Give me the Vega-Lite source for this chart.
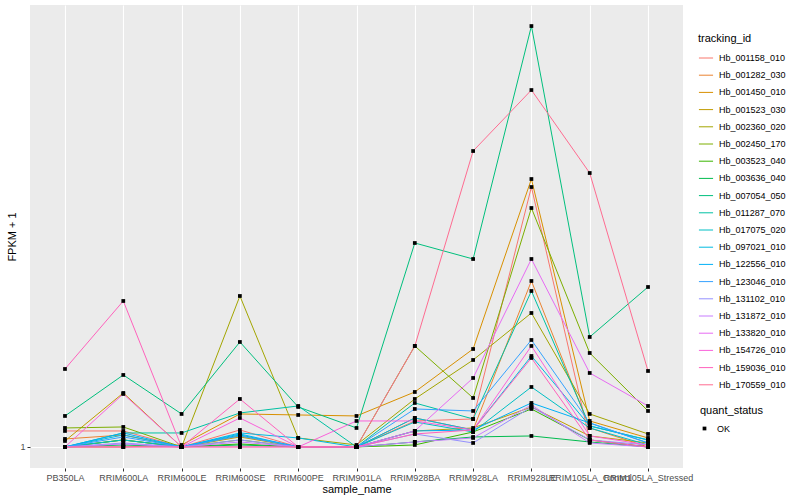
{
"$schema": "https://vega.github.io/schema/vega-lite/v6.json",
"width": 653, "height": 463,
"autosize": {"type": "none"},
"padding": {"left": 30, "top": 5, "right": 117, "bottom": 32},
"background": "white",
"datasets": {"expr": [
{"tracking_id":"Hb_001158_010","sample_name":"PB350LA","fpkm":2.6,"quant_status":"OK"},
{"tracking_id":"Hb_001158_010","sample_name":"RRIM600LA","fpkm":2.6,"quant_status":"OK"},
{"tracking_id":"Hb_001158_010","sample_name":"RRIM600LE","fpkm":1,"quant_status":"OK"},
{"tracking_id":"Hb_001158_010","sample_name":"RRIM600SE","fpkm":2.7,"quant_status":"OK"},
{"tracking_id":"Hb_001158_010","sample_name":"RRIM600PE","fpkm":1,"quant_status":"OK"},
{"tracking_id":"Hb_001158_010","sample_name":"RRIM901LA","fpkm":1,"quant_status":"OK"},
{"tracking_id":"Hb_001158_010","sample_name":"RRIM928BA","fpkm":3.6,"quant_status":"OK"},
{"tracking_id":"Hb_001158_010","sample_name":"RRIM928LA","fpkm":3.8,"quant_status":"OK"},
{"tracking_id":"Hb_001158_010","sample_name":"RRIM928LE","fpkm":27.0,"quant_status":"OK"},
{"tracking_id":"Hb_001158_010","sample_name":"RRIM105LA_Control","fpkm":1.7,"quant_status":"OK"},
{"tracking_id":"Hb_001158_010","sample_name":"RRIM105LA_Stressed","fpkm":1,"quant_status":"OK"},
{"tracking_id":"Hb_001282_030","sample_name":"PB350LA","fpkm":1.8,"quant_status":"OK"},
{"tracking_id":"Hb_001282_030","sample_name":"RRIM600LA","fpkm":2.2,"quant_status":"OK"},
{"tracking_id":"Hb_001282_030","sample_name":"RRIM600LE","fpkm":1,"quant_status":"OK"},
{"tracking_id":"Hb_001282_030","sample_name":"RRIM600SE","fpkm":2.1,"quant_status":"OK"},
{"tracking_id":"Hb_001282_030","sample_name":"RRIM600PE","fpkm":1,"quant_status":"OK"},
{"tracking_id":"Hb_001282_030","sample_name":"RRIM901LA","fpkm":1,"quant_status":"OK"},
{"tracking_id":"Hb_001282_030","sample_name":"RRIM928BA","fpkm":3.9,"quant_status":"OK"},
{"tracking_id":"Hb_001282_030","sample_name":"RRIM928LA","fpkm":2.7,"quant_status":"OK"},
{"tracking_id":"Hb_001282_030","sample_name":"RRIM928LE","fpkm":17.6,"quant_status":"OK"},
{"tracking_id":"Hb_001282_030","sample_name":"RRIM105LA_Control","fpkm":2.9,"quant_status":"OK"},
{"tracking_id":"Hb_001282_030","sample_name":"RRIM105LA_Stressed","fpkm":1,"quant_status":"OK"},
{"tracking_id":"Hb_001450_010","sample_name":"PB350LA","fpkm":1,"quant_status":"OK"},
{"tracking_id":"Hb_001450_010","sample_name":"RRIM600LA","fpkm":1,"quant_status":"OK"},
{"tracking_id":"Hb_001450_010","sample_name":"RRIM600LE","fpkm":1.2,"quant_status":"OK"},
{"tracking_id":"Hb_001450_010","sample_name":"RRIM600SE","fpkm":4.3,"quant_status":"OK"},
{"tracking_id":"Hb_001450_010","sample_name":"RRIM600PE","fpkm":4.2,"quant_status":"OK"},
{"tracking_id":"Hb_001450_010","sample_name":"RRIM901LA","fpkm":4.1,"quant_status":"OK"},
{"tracking_id":"Hb_001450_010","sample_name":"RRIM928BA","fpkm":6.5,"quant_status":"OK"},
{"tracking_id":"Hb_001450_010","sample_name":"RRIM928LA","fpkm":10.8,"quant_status":"OK"},
{"tracking_id":"Hb_001450_010","sample_name":"RRIM928LE","fpkm":27.8,"quant_status":"OK"},
{"tracking_id":"Hb_001450_010","sample_name":"RRIM105LA_Control","fpkm":3.6,"quant_status":"OK"},
{"tracking_id":"Hb_001450_010","sample_name":"RRIM105LA_Stressed","fpkm":1.9,"quant_status":"OK"},
{"tracking_id":"Hb_001523_030","sample_name":"PB350LA","fpkm":1.6,"quant_status":"OK"},
{"tracking_id":"Hb_001523_030","sample_name":"RRIM600LA","fpkm":6.4,"quant_status":"OK"},
{"tracking_id":"Hb_001523_030","sample_name":"RRIM600LE","fpkm":1,"quant_status":"OK"},
{"tracking_id":"Hb_001523_030","sample_name":"RRIM600SE","fpkm":2.0,"quant_status":"OK"},
{"tracking_id":"Hb_001523_030","sample_name":"RRIM600PE","fpkm":1,"quant_status":"OK"},
{"tracking_id":"Hb_001523_030","sample_name":"RRIM901LA","fpkm":1,"quant_status":"OK"},
{"tracking_id":"Hb_001523_030","sample_name":"RRIM928BA","fpkm":2.6,"quant_status":"OK"},
{"tracking_id":"Hb_001523_030","sample_name":"RRIM928LA","fpkm":2.9,"quant_status":"OK"},
{"tracking_id":"Hb_001523_030","sample_name":"RRIM928LE","fpkm":5.0,"quant_status":"OK"},
{"tracking_id":"Hb_001523_030","sample_name":"RRIM105LA_Control","fpkm":2.1,"quant_status":"OK"},
{"tracking_id":"Hb_001523_030","sample_name":"RRIM105LA_Stressed","fpkm":1.4,"quant_status":"OK"},
{"tracking_id":"Hb_002360_020","sample_name":"PB350LA","fpkm":1,"quant_status":"OK"},
{"tracking_id":"Hb_002360_020","sample_name":"RRIM600LA","fpkm":1.7,"quant_status":"OK"},
{"tracking_id":"Hb_002360_020","sample_name":"RRIM600LE","fpkm":1,"quant_status":"OK"},
{"tracking_id":"Hb_002360_020","sample_name":"RRIM600SE","fpkm":16.1,"quant_status":"OK"},
{"tracking_id":"Hb_002360_020","sample_name":"RRIM600PE","fpkm":1.9,"quant_status":"OK"},
{"tracking_id":"Hb_002360_020","sample_name":"RRIM901LA","fpkm":1.2,"quant_status":"OK"},
{"tracking_id":"Hb_002360_020","sample_name":"RRIM928BA","fpkm":5.8,"quant_status":"OK"},
{"tracking_id":"Hb_002360_020","sample_name":"RRIM928LA","fpkm":9.7,"quant_status":"OK"},
{"tracking_id":"Hb_002360_020","sample_name":"RRIM928LE","fpkm":14.4,"quant_status":"OK"},
{"tracking_id":"Hb_002360_020","sample_name":"RRIM105LA_Control","fpkm":4.3,"quant_status":"OK"},
{"tracking_id":"Hb_002360_020","sample_name":"RRIM105LA_Stressed","fpkm":2.3,"quant_status":"OK"},
{"tracking_id":"Hb_002450_170","sample_name":"PB350LA","fpkm":2.9,"quant_status":"OK"},
{"tracking_id":"Hb_002450_170","sample_name":"RRIM600LA","fpkm":3.0,"quant_status":"OK"},
{"tracking_id":"Hb_002450_170","sample_name":"RRIM600LE","fpkm":1,"quant_status":"OK"},
{"tracking_id":"Hb_002450_170","sample_name":"RRIM600SE","fpkm":1.7,"quant_status":"OK"},
{"tracking_id":"Hb_002450_170","sample_name":"RRIM600PE","fpkm":1,"quant_status":"OK"},
{"tracking_id":"Hb_002450_170","sample_name":"RRIM901LA","fpkm":1,"quant_status":"OK"},
{"tracking_id":"Hb_002450_170","sample_name":"RRIM928BA","fpkm":11.1,"quant_status":"OK"},
{"tracking_id":"Hb_002450_170","sample_name":"RRIM928LA","fpkm":5.9,"quant_status":"OK"},
{"tracking_id":"Hb_002450_170","sample_name":"RRIM928LE","fpkm":24.9,"quant_status":"OK"},
{"tracking_id":"Hb_002450_170","sample_name":"RRIM105LA_Control","fpkm":10.4,"quant_status":"OK"},
{"tracking_id":"Hb_002450_170","sample_name":"RRIM105LA_Stressed","fpkm":4.6,"quant_status":"OK"},
{"tracking_id":"Hb_003523_040","sample_name":"PB350LA","fpkm":1,"quant_status":"OK"},
{"tracking_id":"Hb_003523_040","sample_name":"RRIM600LA","fpkm":1.7,"quant_status":"OK"},
{"tracking_id":"Hb_003523_040","sample_name":"RRIM600LE","fpkm":1,"quant_status":"OK"},
{"tracking_id":"Hb_003523_040","sample_name":"RRIM600SE","fpkm":1.3,"quant_status":"OK"},
{"tracking_id":"Hb_003523_040","sample_name":"RRIM600PE","fpkm":1,"quant_status":"OK"},
{"tracking_id":"Hb_003523_040","sample_name":"RRIM901LA","fpkm":1,"quant_status":"OK"},
{"tracking_id":"Hb_003523_040","sample_name":"RRIM928BA","fpkm":1.2,"quant_status":"OK"},
{"tracking_id":"Hb_003523_040","sample_name":"RRIM928LA","fpkm":2.5,"quant_status":"OK"},
{"tracking_id":"Hb_003523_040","sample_name":"RRIM928LE","fpkm":4.8,"quant_status":"OK"},
{"tracking_id":"Hb_003523_040","sample_name":"RRIM105LA_Control","fpkm":1.7,"quant_status":"OK"},
{"tracking_id":"Hb_003523_040","sample_name":"RRIM105LA_Stressed","fpkm":1,"quant_status":"OK"},
{"tracking_id":"Hb_003636_040","sample_name":"PB350LA","fpkm":1,"quant_status":"OK"},
{"tracking_id":"Hb_003636_040","sample_name":"RRIM600LA","fpkm":1.2,"quant_status":"OK"},
{"tracking_id":"Hb_003636_040","sample_name":"RRIM600LE","fpkm":1,"quant_status":"OK"},
{"tracking_id":"Hb_003636_040","sample_name":"RRIM600SE","fpkm":1.2,"quant_status":"OK"},
{"tracking_id":"Hb_003636_040","sample_name":"RRIM600PE","fpkm":1,"quant_status":"OK"},
{"tracking_id":"Hb_003636_040","sample_name":"RRIM901LA","fpkm":1,"quant_status":"OK"},
{"tracking_id":"Hb_003636_040","sample_name":"RRIM928BA","fpkm":1.5,"quant_status":"OK"},
{"tracking_id":"Hb_003636_040","sample_name":"RRIM928LA","fpkm":2.0,"quant_status":"OK"},
{"tracking_id":"Hb_003636_040","sample_name":"RRIM928LE","fpkm":2.1,"quant_status":"OK"},
{"tracking_id":"Hb_003636_040","sample_name":"RRIM105LA_Control","fpkm":1.5,"quant_status":"OK"},
{"tracking_id":"Hb_003636_040","sample_name":"RRIM105LA_Stressed","fpkm":1,"quant_status":"OK"},
{"tracking_id":"Hb_007054_050","sample_name":"PB350LA","fpkm":4.1,"quant_status":"OK"},
{"tracking_id":"Hb_007054_050","sample_name":"RRIM600LA","fpkm":8.2,"quant_status":"OK"},
{"tracking_id":"Hb_007054_050","sample_name":"RRIM600LE","fpkm":4.3,"quant_status":"OK"},
{"tracking_id":"Hb_007054_050","sample_name":"RRIM600SE","fpkm":11.5,"quant_status":"OK"},
{"tracking_id":"Hb_007054_050","sample_name":"RRIM600PE","fpkm":5.0,"quant_status":"OK"},
{"tracking_id":"Hb_007054_050","sample_name":"RRIM901LA","fpkm":2.9,"quant_status":"OK"},
{"tracking_id":"Hb_007054_050","sample_name":"RRIM928BA","fpkm":21.4,"quant_status":"OK"},
{"tracking_id":"Hb_007054_050","sample_name":"RRIM928LA","fpkm":19.8,"quant_status":"OK"},
{"tracking_id":"Hb_007054_050","sample_name":"RRIM928LE","fpkm":43.1,"quant_status":"OK"},
{"tracking_id":"Hb_007054_050","sample_name":"RRIM105LA_Control","fpkm":12.0,"quant_status":"OK"},
{"tracking_id":"Hb_007054_050","sample_name":"RRIM105LA_Stressed","fpkm":17.0,"quant_status":"OK"},
{"tracking_id":"Hb_011287_070","sample_name":"PB350LA","fpkm":1,"quant_status":"OK"},
{"tracking_id":"Hb_011287_070","sample_name":"RRIM600LA","fpkm":2.4,"quant_status":"OK"},
{"tracking_id":"Hb_011287_070","sample_name":"RRIM600LE","fpkm":2.4,"quant_status":"OK"},
{"tracking_id":"Hb_011287_070","sample_name":"RRIM600SE","fpkm":4.4,"quant_status":"OK"},
{"tracking_id":"Hb_011287_070","sample_name":"RRIM600PE","fpkm":5.1,"quant_status":"OK"},
{"tracking_id":"Hb_011287_070","sample_name":"RRIM901LA","fpkm":1,"quant_status":"OK"},
{"tracking_id":"Hb_011287_070","sample_name":"RRIM928BA","fpkm":5.4,"quant_status":"OK"},
{"tracking_id":"Hb_011287_070","sample_name":"RRIM928LA","fpkm":3.8,"quant_status":"OK"},
{"tracking_id":"Hb_011287_070","sample_name":"RRIM928LE","fpkm":16.6,"quant_status":"OK"},
{"tracking_id":"Hb_011287_070","sample_name":"RRIM105LA_Control","fpkm":3.1,"quant_status":"OK"},
{"tracking_id":"Hb_011287_070","sample_name":"RRIM105LA_Stressed","fpkm":1.7,"quant_status":"OK"},
{"tracking_id":"Hb_017075_020","sample_name":"PB350LA","fpkm":1,"quant_status":"OK"},
{"tracking_id":"Hb_017075_020","sample_name":"RRIM600LA","fpkm":1.7,"quant_status":"OK"},
{"tracking_id":"Hb_017075_020","sample_name":"RRIM600LE","fpkm":1,"quant_status":"OK"},
{"tracking_id":"Hb_017075_020","sample_name":"RRIM600SE","fpkm":2.2,"quant_status":"OK"},
{"tracking_id":"Hb_017075_020","sample_name":"RRIM600PE","fpkm":1,"quant_status":"OK"},
{"tracking_id":"Hb_017075_020","sample_name":"RRIM901LA","fpkm":1,"quant_status":"OK"},
{"tracking_id":"Hb_017075_020","sample_name":"RRIM928BA","fpkm":3.5,"quant_status":"OK"},
{"tracking_id":"Hb_017075_020","sample_name":"RRIM928LA","fpkm":2.5,"quant_status":"OK"},
{"tracking_id":"Hb_017075_020","sample_name":"RRIM928LE","fpkm":7.0,"quant_status":"OK"},
{"tracking_id":"Hb_017075_020","sample_name":"RRIM105LA_Control","fpkm":2.9,"quant_status":"OK"},
{"tracking_id":"Hb_017075_020","sample_name":"RRIM105LA_Stressed","fpkm":1.2,"quant_status":"OK"},
{"tracking_id":"Hb_097021_010","sample_name":"PB350LA","fpkm":1,"quant_status":"OK"},
{"tracking_id":"Hb_097021_010","sample_name":"RRIM600LA","fpkm":2.2,"quant_status":"OK"},
{"tracking_id":"Hb_097021_010","sample_name":"RRIM600LE","fpkm":1,"quant_status":"OK"},
{"tracking_id":"Hb_097021_010","sample_name":"RRIM600SE","fpkm":2.4,"quant_status":"OK"},
{"tracking_id":"Hb_097021_010","sample_name":"RRIM600PE","fpkm":1.9,"quant_status":"OK"},
{"tracking_id":"Hb_097021_010","sample_name":"RRIM901LA","fpkm":1,"quant_status":"OK"},
{"tracking_id":"Hb_097021_010","sample_name":"RRIM928BA","fpkm":3.9,"quant_status":"OK"},
{"tracking_id":"Hb_097021_010","sample_name":"RRIM928LA","fpkm":2.7,"quant_status":"OK"},
{"tracking_id":"Hb_097021_010","sample_name":"RRIM928LE","fpkm":10.1,"quant_status":"OK"},
{"tracking_id":"Hb_097021_010","sample_name":"RRIM105LA_Control","fpkm":3.1,"quant_status":"OK"},
{"tracking_id":"Hb_097021_010","sample_name":"RRIM105LA_Stressed","fpkm":1.7,"quant_status":"OK"},
{"tracking_id":"Hb_122556_010","sample_name":"PB350LA","fpkm":1,"quant_status":"OK"},
{"tracking_id":"Hb_122556_010","sample_name":"RRIM600LA","fpkm":2.4,"quant_status":"OK"},
{"tracking_id":"Hb_122556_010","sample_name":"RRIM600LE","fpkm":1,"quant_status":"OK"},
{"tracking_id":"Hb_122556_010","sample_name":"RRIM600SE","fpkm":2.3,"quant_status":"OK"},
{"tracking_id":"Hb_122556_010","sample_name":"RRIM600PE","fpkm":1,"quant_status":"OK"},
{"tracking_id":"Hb_122556_010","sample_name":"RRIM901LA","fpkm":1,"quant_status":"OK"},
{"tracking_id":"Hb_122556_010","sample_name":"RRIM928BA","fpkm":2.6,"quant_status":"OK"},
{"tracking_id":"Hb_122556_010","sample_name":"RRIM928LA","fpkm":2.7,"quant_status":"OK"},
{"tracking_id":"Hb_122556_010","sample_name":"RRIM928LE","fpkm":5.4,"quant_status":"OK"},
{"tracking_id":"Hb_122556_010","sample_name":"RRIM105LA_Control","fpkm":3.4,"quant_status":"OK"},
{"tracking_id":"Hb_122556_010","sample_name":"RRIM105LA_Stressed","fpkm":1.4,"quant_status":"OK"},
{"tracking_id":"Hb_123046_010","sample_name":"PB350LA","fpkm":1,"quant_status":"OK"},
{"tracking_id":"Hb_123046_010","sample_name":"RRIM600LA","fpkm":2.0,"quant_status":"OK"},
{"tracking_id":"Hb_123046_010","sample_name":"RRIM600LE","fpkm":1,"quant_status":"OK"},
{"tracking_id":"Hb_123046_010","sample_name":"RRIM600SE","fpkm":2.1,"quant_status":"OK"},
{"tracking_id":"Hb_123046_010","sample_name":"RRIM600PE","fpkm":1,"quant_status":"OK"},
{"tracking_id":"Hb_123046_010","sample_name":"RRIM901LA","fpkm":1,"quant_status":"OK"},
{"tracking_id":"Hb_123046_010","sample_name":"RRIM928BA","fpkm":4.8,"quant_status":"OK"},
{"tracking_id":"Hb_123046_010","sample_name":"RRIM928LA","fpkm":4.6,"quant_status":"OK"},
{"tracking_id":"Hb_123046_010","sample_name":"RRIM928LE","fpkm":11.7,"quant_status":"OK"},
{"tracking_id":"Hb_123046_010","sample_name":"RRIM105LA_Control","fpkm":3.4,"quant_status":"OK"},
{"tracking_id":"Hb_123046_010","sample_name":"RRIM105LA_Stressed","fpkm":1.4,"quant_status":"OK"},
{"tracking_id":"Hb_131102_010","sample_name":"PB350LA","fpkm":1,"quant_status":"OK"},
{"tracking_id":"Hb_131102_010","sample_name":"RRIM600LA","fpkm":1.4,"quant_status":"OK"},
{"tracking_id":"Hb_131102_010","sample_name":"RRIM600LE","fpkm":1,"quant_status":"OK"},
{"tracking_id":"Hb_131102_010","sample_name":"RRIM600SE","fpkm":1.7,"quant_status":"OK"},
{"tracking_id":"Hb_131102_010","sample_name":"RRIM600PE","fpkm":1,"quant_status":"OK"},
{"tracking_id":"Hb_131102_010","sample_name":"RRIM901LA","fpkm":1,"quant_status":"OK"},
{"tracking_id":"Hb_131102_010","sample_name":"RRIM928BA","fpkm":2.3,"quant_status":"OK"},
{"tracking_id":"Hb_131102_010","sample_name":"RRIM928LA","fpkm":1.4,"quant_status":"OK"},
{"tracking_id":"Hb_131102_010","sample_name":"RRIM928LE","fpkm":5.0,"quant_status":"OK"},
{"tracking_id":"Hb_131102_010","sample_name":"RRIM105LA_Control","fpkm":1.7,"quant_status":"OK"},
{"tracking_id":"Hb_131102_010","sample_name":"RRIM105LA_Stressed","fpkm":1.2,"quant_status":"OK"},
{"tracking_id":"Hb_131872_010","sample_name":"PB350LA","fpkm":1,"quant_status":"OK"},
{"tracking_id":"Hb_131872_010","sample_name":"RRIM600LA","fpkm":1.3,"quant_status":"OK"},
{"tracking_id":"Hb_131872_010","sample_name":"RRIM600LE","fpkm":1,"quant_status":"OK"},
{"tracking_id":"Hb_131872_010","sample_name":"RRIM600SE","fpkm":1.5,"quant_status":"OK"},
{"tracking_id":"Hb_131872_010","sample_name":"RRIM600PE","fpkm":1,"quant_status":"OK"},
{"tracking_id":"Hb_131872_010","sample_name":"RRIM901LA","fpkm":1,"quant_status":"OK"},
{"tracking_id":"Hb_131872_010","sample_name":"RRIM928BA","fpkm":1.5,"quant_status":"OK"},
{"tracking_id":"Hb_131872_010","sample_name":"RRIM928LA","fpkm":1.9,"quant_status":"OK"},
{"tracking_id":"Hb_131872_010","sample_name":"RRIM928LE","fpkm":5.2,"quant_status":"OK"},
{"tracking_id":"Hb_131872_010","sample_name":"RRIM105LA_Control","fpkm":1.4,"quant_status":"OK"},
{"tracking_id":"Hb_131872_010","sample_name":"RRIM105LA_Stressed","fpkm":1,"quant_status":"OK"},
{"tracking_id":"Hb_133820_010","sample_name":"PB350LA","fpkm":1,"quant_status":"OK"},
{"tracking_id":"Hb_133820_010","sample_name":"RRIM600LA","fpkm":1,"quant_status":"OK"},
{"tracking_id":"Hb_133820_010","sample_name":"RRIM600LE","fpkm":1,"quant_status":"OK"},
{"tracking_id":"Hb_133820_010","sample_name":"RRIM600SE","fpkm":1,"quant_status":"OK"},
{"tracking_id":"Hb_133820_010","sample_name":"RRIM600PE","fpkm":1,"quant_status":"OK"},
{"tracking_id":"Hb_133820_010","sample_name":"RRIM901LA","fpkm":1,"quant_status":"OK"},
{"tracking_id":"Hb_133820_010","sample_name":"RRIM928BA","fpkm":2.6,"quant_status":"OK"},
{"tracking_id":"Hb_133820_010","sample_name":"RRIM928LA","fpkm":7.9,"quant_status":"OK"},
{"tracking_id":"Hb_133820_010","sample_name":"RRIM928LE","fpkm":19.8,"quant_status":"OK"},
{"tracking_id":"Hb_133820_010","sample_name":"RRIM105LA_Control","fpkm":8.4,"quant_status":"OK"},
{"tracking_id":"Hb_133820_010","sample_name":"RRIM105LA_Stressed","fpkm":5.1,"quant_status":"OK"},
{"tracking_id":"Hb_154726_010","sample_name":"PB350LA","fpkm":1,"quant_status":"OK"},
{"tracking_id":"Hb_154726_010","sample_name":"RRIM600LA","fpkm":6.3,"quant_status":"OK"},
{"tracking_id":"Hb_154726_010","sample_name":"RRIM600LE","fpkm":1,"quant_status":"OK"},
{"tracking_id":"Hb_154726_010","sample_name":"RRIM600SE","fpkm":3.9,"quant_status":"OK"},
{"tracking_id":"Hb_154726_010","sample_name":"RRIM600PE","fpkm":1,"quant_status":"OK"},
{"tracking_id":"Hb_154726_010","sample_name":"RRIM901LA","fpkm":3.6,"quant_status":"OK"},
{"tracking_id":"Hb_154726_010","sample_name":"RRIM928BA","fpkm":3.6,"quant_status":"OK"},
{"tracking_id":"Hb_154726_010","sample_name":"RRIM928LA","fpkm":2.7,"quant_status":"OK"},
{"tracking_id":"Hb_154726_010","sample_name":"RRIM928LE","fpkm":11.1,"quant_status":"OK"},
{"tracking_id":"Hb_154726_010","sample_name":"RRIM105LA_Control","fpkm":2.1,"quant_status":"OK"},
{"tracking_id":"Hb_154726_010","sample_name":"RRIM105LA_Stressed","fpkm":1.2,"quant_status":"OK"},
{"tracking_id":"Hb_159036_010","sample_name":"PB350LA","fpkm":8.8,"quant_status":"OK"},
{"tracking_id":"Hb_159036_010","sample_name":"RRIM600LA","fpkm":15.6,"quant_status":"OK"},
{"tracking_id":"Hb_159036_010","sample_name":"RRIM600LE","fpkm":1,"quant_status":"OK"},
{"tracking_id":"Hb_159036_010","sample_name":"RRIM600SE","fpkm":5.8,"quant_status":"OK"},
{"tracking_id":"Hb_159036_010","sample_name":"RRIM600PE","fpkm":1,"quant_status":"OK"},
{"tracking_id":"Hb_159036_010","sample_name":"RRIM901LA","fpkm":1,"quant_status":"OK"},
{"tracking_id":"Hb_159036_010","sample_name":"RRIM928BA","fpkm":2.3,"quant_status":"OK"},
{"tracking_id":"Hb_159036_010","sample_name":"RRIM928LA","fpkm":2.7,"quant_status":"OK"},
{"tracking_id":"Hb_159036_010","sample_name":"RRIM928LE","fpkm":9.9,"quant_status":"OK"},
{"tracking_id":"Hb_159036_010","sample_name":"RRIM105LA_Control","fpkm":1.7,"quant_status":"OK"},
{"tracking_id":"Hb_159036_010","sample_name":"RRIM105LA_Stressed","fpkm":1,"quant_status":"OK"},
{"tracking_id":"Hb_170559_010","sample_name":"PB350LA","fpkm":1,"quant_status":"OK"},
{"tracking_id":"Hb_170559_010","sample_name":"RRIM600LA","fpkm":1,"quant_status":"OK"},
{"tracking_id":"Hb_170559_010","sample_name":"RRIM600LE","fpkm":1,"quant_status":"OK"},
{"tracking_id":"Hb_170559_010","sample_name":"RRIM600SE","fpkm":1,"quant_status":"OK"},
{"tracking_id":"Hb_170559_010","sample_name":"RRIM600PE","fpkm":1,"quant_status":"OK"},
{"tracking_id":"Hb_170559_010","sample_name":"RRIM901LA","fpkm":1,"quant_status":"OK"},
{"tracking_id":"Hb_170559_010","sample_name":"RRIM928BA","fpkm":11.1,"quant_status":"OK"},
{"tracking_id":"Hb_170559_010","sample_name":"RRIM928LA","fpkm":30.6,"quant_status":"OK"},
{"tracking_id":"Hb_170559_010","sample_name":"RRIM928LE","fpkm":36.7,"quant_status":"OK"},
{"tracking_id":"Hb_170559_010","sample_name":"RRIM105LA_Control","fpkm":28.4,"quant_status":"OK"},
{"tracking_id":"Hb_170559_010","sample_name":"RRIM105LA_Stressed","fpkm":8.6,"quant_status":"OK"}
]},
"data": {"name": "expr"},
"config": {
  "font": "Liberation Sans",
  "view": {"fill": "#EBEBEB", "stroke": null},
  "axis": {"gridColor": "white", "gridWidth": 1.1, "domain": false, "tickColor": "#333333", "tickSize": 3, "tickWidth": 1, "labelColor": "#4D4D4D", "labelFontSize": 9, "titleFontSize": 11, "titleFontWeight": "normal", "titleColor": "black", "labelPadding": 2},
  "legend": {"titleFontSize": 11, "titleFontWeight": "normal", "labelFontSize": 9, "labelColor": "black", "titleColor": "black", "padding": 0}
},
"encoding": {
  "x": {"field": "sample_name", "type": "nominal",
        "sort": ["PB350LA","RRIM600LA","RRIM600LE","RRIM600SE","RRIM600PE","RRIM901LA","RRIM928BA","RRIM928LA","RRIM928LE","RRIM105LA_Control","RRIM105LA_Stressed"],
        "scale": {"type": "point", "padding": 0.6},
        "axis": {"labelAngle": 0, "title": "sample_name", "labelOverlap": false, "grid": true, "titlePadding": 1}},
  "y": {"field": "fpkm", "type": "quantitative",
        "scale": {"domain": [-1.105, 45.205], "nice": false, "zero": false},
        "axis": {"values": [1], "title": "FPKM + 1", "grid": true, "titlePadding": 2}}
},
"layer": [
  {"mark": {"type": "line", "strokeWidth": 1},
   "encoding": {
     "color": {"field": "tracking_id", "type": "nominal",
       "scale": {"domain": ["Hb_001158_010","Hb_001282_030","Hb_001450_010","Hb_001523_030","Hb_002360_020","Hb_002450_170","Hb_003523_040","Hb_003636_040","Hb_007054_050","Hb_011287_070","Hb_017075_020","Hb_097021_010","Hb_122556_010","Hb_123046_010","Hb_131102_010","Hb_131872_010","Hb_133820_010","Hb_154726_010","Hb_159036_010","Hb_170559_010"],
                 "range": ["#F8766D","#EA8331","#D89000","#C09B00","#A3A500","#7CAE00","#39B600","#00BB4E","#00BF7D","#00C1A3","#00BFC4","#00BAE0","#00B0F6","#35A2FF","#9590FF","#C77CFF","#E76BF3","#FA62DB","#FF62BC","#FF6C91"]},
       "legend": {"orient": "none", "legendX": 668, "legendY": 28, "title": "tracking_id", "symbolType": "stroke", "symbolSize": 200, "symbolStrokeWidth": 1, "rowPadding": 4.2, "labelOffset": 5, "titlePadding": 6}}
   }},
  {"mark": {"type": "point", "filled": true, "color": "black", "size": 14, "opacity": 1},
   "encoding": {
     "shape": {"field": "quant_status", "type": "nominal", "scale": {"range": ["square"]},
       "legend": {"orient": "none", "legendX": 670, "legendY": 400, "title": "quant_status", "symbolFillColor": "black", "symbolStrokeColor": "black", "symbolSize": 14, "labelOffset": 8, "titlePadding": 8}}
   }}
]
}
